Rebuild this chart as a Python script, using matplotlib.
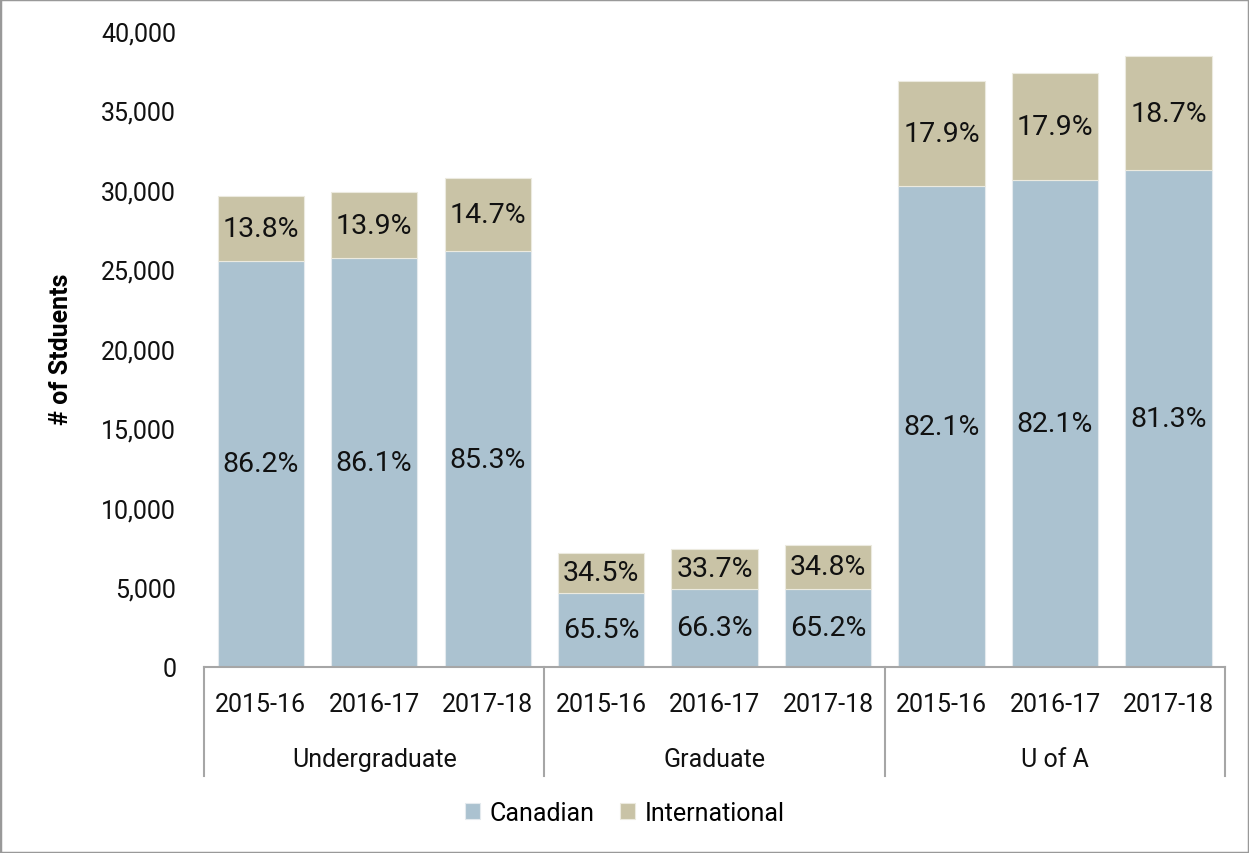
import matplotlib.pyplot as plt
import matplotlib.transforms as mtransforms
from matplotlib.patches import Rectangle

plt.rcParams['font.family'] = ['Roboto', 'DejaVu Sans']

groups = ['Undergraduate', 'Graduate', 'U of A']
years = ['2015-16', '2016-17', '2017-18']

canadian = [25530, 25680, 26140, 4670, 4920, 4920, 30230, 30620, 31210]
international = [4090, 4190, 4590, 2490, 2500, 2750, 6600, 6690, 7200]
pct_canadian = ['86.2%', '86.1%', '85.3%', '65.5%', '66.3%', '65.2%', '82.1%', '82.1%', '81.3%']
pct_international = ['13.8%', '13.9%', '14.7%', '34.5%', '33.7%', '34.8%', '17.9%', '17.9%', '18.7%']

c_can = '#abc2d0'
c_int = '#c9c3a6'
grey = '#a6a6a6'

fig = plt.figure(figsize=(12.49, 8.54), dpi=100)
ax = fig.add_axes([0.1633, 0.2178, 0.8177, 0.7453])

x = list(range(len(canadian)))
ax.bar(x, canadian, width=0.76, color=c_can, edgecolor='#e4eaee', linewidth=0.8, label='Canadian')
ax.bar(x, international, width=0.76, bottom=canadian, color=c_int, edgecolor='#eceadf',
       linewidth=0.8, label='International')

for i in x:
    ax.text(i, canadian[i] / 2, pct_canadian[i], ha='center', va='center', fontsize=20.5, color='#111111')
    ax.text(i, canadian[i] + international[i] / 2, pct_international[i], ha='center', va='center',
            fontsize=20.5, color='#111111')

ax.set_xlim(-0.5, 8.5)
ax.set_ylim(0, 40000)
ax.set_yticks(range(0, 40001, 5000))
ax.set_yticklabels([f'{v:,}' for v in range(0, 40001, 5000)], fontsize=18, color='#111111')
ax.tick_params(axis='y', length=0, pad=20)
ax.set_xticks([])
for s in ['top', 'right', 'left']:
    ax.spines[s].set_visible(False)
ax.spines['bottom'].set_color(grey)
ax.spines['bottom'].set_linewidth(1.5)

ax.set_ylabel('# of Stduents', fontsize=18, fontweight='bold', labelpad=20)

# multi-level category axis
trans = mtransforms.blended_transform_factory(ax.transData, ax.transAxes)
px = 1 / (ax.get_position().height * fig.bbox.height)
for xs in [-0.5, 2.5, 5.5, 8.5]:
    ax.plot([xs, xs], [0, -109 * px], transform=trans, color=grey, lw=1.5, clip_on=False)
for i in x:
    ax.text(i, -37 * px, years[i % 3], transform=trans, ha='center', va='center', fontsize=18,
            color='#111111')
for g, name in enumerate(groups):
    ax.text(g * 3 + 1, -92 * px, name, transform=trans, ha='center', va='center', fontsize=18,
            color='#111111')

fig.legend(loc='center', bbox_to_anchor=(0.5, 0.047), ncol=2, frameon=False, fontsize=18,
           handlelength=0.6, handleheight=0.6, handletextpad=0.4, columnspacing=1.0)

fig.patches.append(Rectangle((0, 0), 1, 1, transform=fig.transFigure, fill=False,
                             edgecolor='#999999', linewidth=2.5))

fig.savefig('out.png', dpi=100)
